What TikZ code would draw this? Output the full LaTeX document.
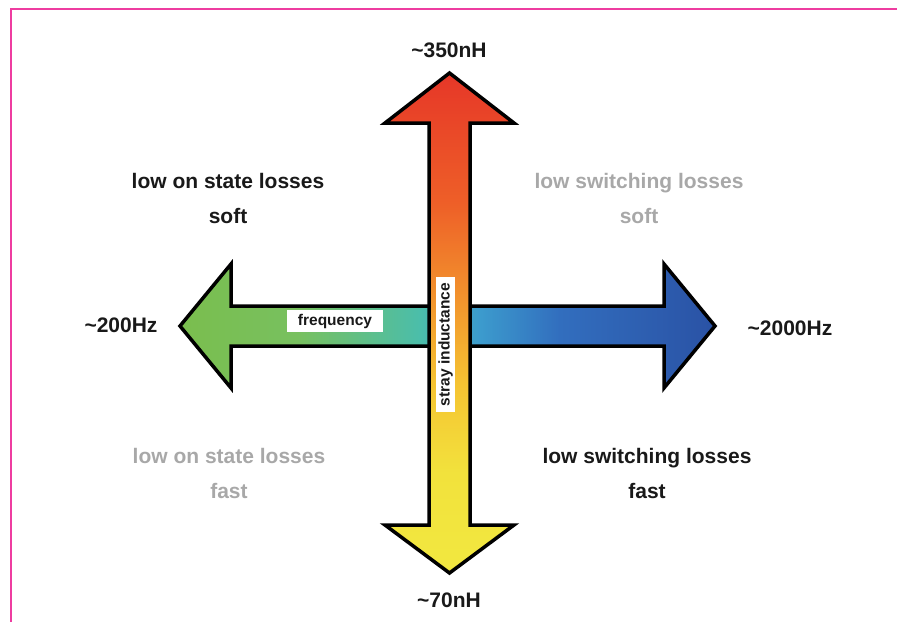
\documentclass[tikz,border=0pt]{standalone}
\usepackage{fontspec}
\setmainfont{Liberation Sans}
\definecolor{framepink}{RGB}{238,60,160}
\definecolor{txtblack}{RGB}{25,25,25}
\definecolor{txtgray}{RGB}{168,168,168}
\definecolor{hA}{RGB}{122,190,78}
\definecolor{hB}{RGB}{120,192,95}
\definecolor{hC}{RGB}{75,190,170}
\definecolor{hD}{RGB}{60,155,205}
\definecolor{hE}{RGB}{50,110,190}
\definecolor{hF}{RGB}{42,82,165}
\definecolor{vA}{RGB}{242,232,64}
\definecolor{vB}{RGB}{242,226,60}
\definecolor{vC}{RGB}{245,195,50}
\definecolor{vD}{RGB}{242,150,45}
\definecolor{vE}{RGB}{238,95,40}
\definecolor{vF}{RGB}{230,55,40}
\pgfdeclarehorizontalshading{freqshade}{100bp}{%
  color(0bp)=(hA); color(25bp)=(hA); color(36bp)=(hB); color(47.4bp)=(hC);
  color(53bp)=(hD); color(60.5bp)=(hE); color(75bp)=(hF); color(100bp)=(hF)}
\pgfdeclareverticalshading{strayshade}{100bp}{%
  color(0bp)=(vA); color(25bp)=(vA); color(35bp)=(vB); color(44bp)=(vC);
  color(52bp)=(vD); color(62bp)=(vE); color(75bp)=(vF); color(100bp)=(vF)}
\tikzset{
  bigarrow/.style={draw=black,line width=3.5pt,line join=miter},
  corner/.style={font=\fontsize{21}{25}\selectfont\bfseries,anchor=base,inner sep=0pt},
  cblack/.style={corner,text=txtblack},
  cgray/.style={corner,text=txtgray},
  axislabel/.style={fill=white,font=\fontsize{15.5}{18}\selectfont\bfseries,text=txtblack,
    text height=11.5pt,text depth=3.3pt,inner xsep=11pt,inner ysep=3.6pt},
}
\begin{document}
\begin{tikzpicture}[x=1pt,y=-1pt]
\useasboundingbox (0,0) rectangle (897,622);
% frame
\draw[framepink,line width=2pt] (11,622) -- (11,8.5) -- (897,8.5);
% horizontal arrow (frequency)
\shade[shading=freqshade,bigarrow]
  (180,326) -- (231,264) -- (231,306) -- (664,306) -- (664,264) -- (715,326)
  -- (664,388) -- (664,346) -- (231,346) -- (231,388) -- cycle;
% vertical arrow (stray inductance)
\shade[shading=strayshade,bigarrow]
  (449.5,73) -- (514,123) -- (470,123) -- (470,525) -- (514,525) -- (449.5,573)
  -- (385,525) -- (429,525) -- (429,123) -- (385,123) -- cycle;
% axis labels
\node[axislabel] (freq) at (335,321) {frequency};
\node[axislabel,rotate=90,inner xsep=6pt,inner ysep=2.3pt] (stray) at (445.5,344.5) {stray inductance};
% end labels
\node[cblack] (top) at (449,57) {\textasciitilde350nH};
\node[cblack] (bottom) at (449,607) {\textasciitilde70nH};
\node[cblack] (left) at (121,332) {\textasciitilde200Hz};
\node[cblack] (right) at (790,335) {\textasciitilde2000Hz};
% quadrant labels
\node[cblack] (q1a) at (228,188) {low on state losses};
\node[cblack] (q1b) at (228,223) {soft};
\node[cgray] (q2a) at (639,188) {low switching losses};
\node[cgray] (q2b) at (639,223) {soft};
\node[cgray] (q3a) at (229,463) {low on state losses};
\node[cgray] (q3b) at (229,498) {fast};
\node[cblack] (q4a) at (647,463) {low switching losses};
\node[cblack] (q4b) at (647,498) {fast};
\end{tikzpicture}
\end{document}
